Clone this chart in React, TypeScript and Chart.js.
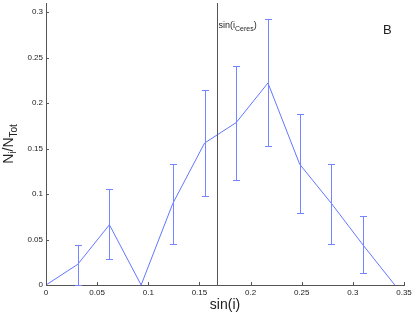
import { useEffect, useRef } from "react";
import { Chart, registerables } from "chart.js";

Chart.register(...registerables);

const xValues = [0, 0.031, 0.062, 0.093, 0.124, 0.155, 0.186, 0.217, 0.248, 0.279, 0.31, 0.341];
const yValues = [0, 0.0227, 0.0662, 0, 0.0897, 0.156, 0.1786, 0.2221, 0.1328, 0.0897, 0.0439, 0];
const errUpper = [null, 0.0443, 0.1054, null, 0.133, 0.2148, 0.2407, 0.2927, 0.188, 0.133, 0.076, null];
const errLower = [null, 0, 0.0285, null, 0.0447, 0.0973, 0.1149, 0.1526, 0.0794, 0.0447, 0.0135, null];
const xTicks = [0, 0.05, 0.1, 0.15, 0.2, 0.25, 0.3, 0.35];
const yTicks = [0, 0.05, 0.1, 0.15, 0.2, 0.25, 0.3];
const ceresSinI = 0.1675;
const panelLabel = "B";
const xTitle = "sin(i)";

const LINE_COLOR = "#6376ff";
const ERR_COLOR = "#7486ff";
const AXIS_COLOR = "#555555";
const TEXT_COLOR = "#222222";
const FONT = "Arial, 'Liberation Sans', Helvetica, sans-serif";

const overlayPlugin = {
  id: "overlay",
  afterDatasetsDraw(chart: any) {
    const { ctx, chartArea, scales } = chart;
    const xs = scales.x;
    const ys = scales.y;
    ctx.save();

    // error bars
    ctx.strokeStyle = ERR_COLOR;
    ctx.lineWidth = 1;
    for (let i = 0; i < xValues.length; i++) {
      const hi = errUpper[i];
      const lo = errLower[i];
      if (hi == null || lo == null) continue;
      const px = Math.round(xs.getPixelForValue(xValues[i])) + 0.5;
      const pHi = Math.round(ys.getPixelForValue(hi)) + 0.5;
      const pLo = Math.round(ys.getPixelForValue(lo)) + 0.5;
      ctx.beginPath();
      ctx.moveTo(px, pHi);
      ctx.lineTo(px, pLo);
      ctx.moveTo(px - 3.5, pHi);
      ctx.lineTo(px + 3.5, pHi);
      ctx.moveTo(px - 3.5, pLo);
      ctx.lineTo(px + 3.5, pLo);
      ctx.stroke();
    }

    // vertical Ceres line
    const cx = Math.round(xs.getPixelForValue(ceresSinI)) + 0.5;
    ctx.strokeStyle = AXIS_COLOR;
    ctx.beginPath();
    ctx.moveTo(cx, chartArea.top);
    ctx.lineTo(cx, chartArea.bottom);
    ctx.stroke();

    // inward ticks
    ctx.beginPath();
    for (const v of xTicks) {
      const px = Math.round(xs.getPixelForValue(v)) + 0.5;
      ctx.moveTo(px, chartArea.bottom);
      ctx.lineTo(px, chartArea.bottom - 3);
    }
    for (const v of yTicks) {
      const py = Math.round(ys.getPixelForValue(v)) + 0.5;
      ctx.moveTo(chartArea.left, py);
      ctx.lineTo(chartArea.left + 3, py);
    }
    ctx.stroke();

    // Ceres label
    ctx.fillStyle = TEXT_COLOR;
    ctx.textBaseline = "alphabetic";
    ctx.textAlign = "left";
    let tx = cx + 1;
    const ty = 28;
    ctx.font = `9px ${FONT}`;
    ctx.fillText("sin(i", tx, ty);
    tx += ctx.measureText("sin(i").width;
    ctx.font = `7px ${FONT}`;
    ctx.fillText("Ceres", tx, ty + 3);
    tx += ctx.measureText("Ceres").width;
    ctx.font = `9px ${FONT}`;
    ctx.fillText(")", tx, ty);

    // panel label
    ctx.font = `13px ${FONT}`;
    ctx.fillText(panelLabel, 383, 34);

    // x title
    ctx.font = `14px ${FONT}`;
    ctx.textAlign = "center";
    ctx.fillText(xTitle, (chartArea.left + chartArea.right) / 2, 309);

    // y title: N_i / N_Tot rotated
    const parts: [string, number, number][] = [
      ["N", 14, 0],
      ["i", 10, 3],
      ["/N", 14, 0],
      ["Tot", 10, 4],
    ];
    ctx.textAlign = "left";
    let total = 0;
    for (const [t, s] of parts) {
      ctx.font = `${s}px ${FONT}`;
      total += ctx.measureText(t).width;
    }
    ctx.translate(13, (chartArea.top + chartArea.bottom) / 2);
    ctx.rotate(-Math.PI / 2);
    let ox = -total / 2;
    for (const [t, s, dy] of parts) {
      ctx.font = `${s}px ${FONT}`;
      ctx.fillText(t, ox, dy);
      ox += ctx.measureText(t).width;
    }
    ctx.restore();
  },
};

export default function App() {
  const ref = useRef<HTMLCanvasElement>(null);
  useEffect(() => {
    const chart = new Chart(ref.current!, {
      type: "line",
      data: {
        datasets: [
          {
            data: xValues.map((x, i) => ({ x, y: yValues[i] })),
            borderColor: LINE_COLOR,
            borderWidth: 1,
            pointRadius: 0,
            tension: 0,
            fill: false,
          },
        ],
      },
      options: {
        animation: false,
        responsive: true,
        maintainAspectRatio: false,
        layout: { padding: { left: 0, top: 3, right: 11, bottom: 0 } },
        plugins: { legend: { display: false }, tooltip: { enabled: false } },
        scales: {
          x: {
            type: "linear",
            min: 0,
            max: 0.35,
            afterBuildTicks: (s: any) => {
              s.ticks = xTicks.map((v) => ({ value: v }));
            },
            afterFit: (s: any) => {
              s.height = 29;
              s.paddingLeft = 0;
              s.paddingRight = 0;
            },
            grid: { display: false, drawTicks: false },
            border: { display: true, color: AXIS_COLOR, width: 1 },
            ticks: {
              color: TEXT_COLOR,
              font: { size: 8, family: FONT },
              padding: 3,
              maxRotation: 0,
              autoSkip: false,
              callback: (v: any) => String(Number(v)),
            },
          },
          y: {
            type: "linear",
            min: 0,
            max: 0.31,
            afterBuildTicks: (s: any) => {
              s.ticks = yTicks.map((v) => ({ value: v }));
            },
            afterFit: (s: any) => {
              s.width = 46;
              s.paddingTop = 0;
              s.paddingBottom = 0;
            },
            grid: { display: false, drawTicks: false },
            border: { display: true, color: AXIS_COLOR, width: 1 },
            ticks: {
              color: TEXT_COLOR,
              font: { size: 8, family: FONT },
              padding: 3,
              autoSkip: false,
              callback: (v: any) => String(Number(v)),
            },
          },
        },
      },
      plugins: [overlayPlugin],
    });
    return () => chart.destroy();
  }, []);
  return (
    <div style={{ position: "fixed", left: 0, top: 0, width: 415, height: 314 }}>
      <canvas ref={ref} />
    </div>
  );
}
